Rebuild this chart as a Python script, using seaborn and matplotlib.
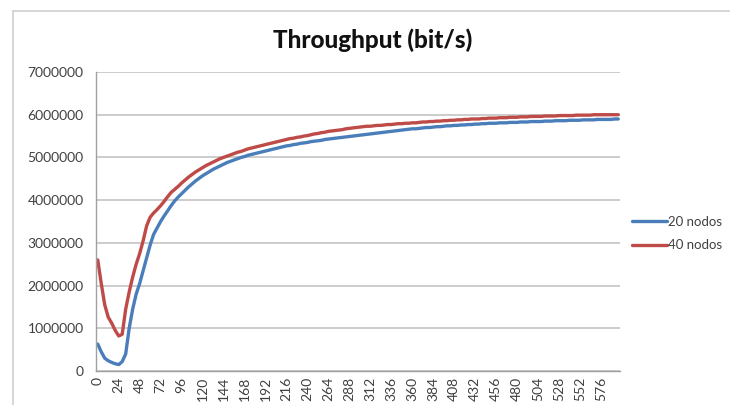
import numpy as np
import pandas as pd
import matplotlib
matplotlib.use("Agg")
import matplotlib.pyplot as plt
from matplotlib.lines import Line2D
import seaborn as sns

# time axis (s), one category every 4 s
tempo = list(range(0, 600, 4))

# throughput in Mbit/s
nodos_20 = [
    0.63, 0.45, 0.30, 0.24, 0.20, 0.17, 0.15, 0.22, 0.40, 1.00,
    1.45, 1.80, 2.05, 2.35, 2.65, 2.95, 3.20, 3.35, 3.50, 3.63,
    3.75, 3.87, 3.98, 4.07, 4.15, 4.23, 4.31, 4.38, 4.45, 4.51,
    4.57, 4.62, 4.67, 4.72, 4.76, 4.80, 4.84, 4.88, 4.91, 4.94,
    4.97, 5.00, 5.02, 5.05, 5.07, 5.09, 5.11, 5.13, 5.15, 5.17,
    5.19, 5.21, 5.23, 5.25, 5.27, 5.28, 5.30, 5.31, 5.33, 5.34,
    5.35, 5.37, 5.38, 5.39, 5.40, 5.42, 5.43, 5.44, 5.45, 5.46,
    5.47, 5.48, 5.49, 5.50, 5.51, 5.52, 5.53, 5.54, 5.55, 5.56,
    5.57, 5.58, 5.59, 5.60, 5.61, 5.62, 5.63, 5.64, 5.65, 5.66,
    5.67, 5.67, 5.68, 5.69, 5.70, 5.70, 5.71, 5.72, 5.72, 5.73,
    5.74, 5.74, 5.75, 5.75, 5.76, 5.76, 5.77, 5.77, 5.78, 5.78,
    5.79, 5.79, 5.80, 5.80, 5.80, 5.81, 5.81, 5.81, 5.82, 5.82,
    5.82, 5.83, 5.83, 5.83, 5.84, 5.84, 5.84, 5.84, 5.85, 5.85,
    5.85, 5.86, 5.86, 5.86, 5.86, 5.87, 5.87, 5.87, 5.87, 5.88,
    5.88, 5.88, 5.88, 5.89, 5.89, 5.89, 5.89, 5.89, 5.90, 5.90,
]
nodos_40 = [
    2.60, 2.05, 1.55, 1.26, 1.12, 0.95, 0.82, 0.86, 1.45, 1.85,
    2.20, 2.50, 2.75, 3.05, 3.40, 3.60, 3.70, 3.78, 3.87, 3.97,
    4.08, 4.18, 4.25, 4.32, 4.40, 4.47, 4.54, 4.60, 4.66, 4.71,
    4.76, 4.81, 4.85, 4.89, 4.93, 4.97, 5.00, 5.03, 5.06, 5.09,
    5.12, 5.14, 5.17, 5.20, 5.22, 5.24, 5.26, 5.28, 5.30, 5.32,
    5.34, 5.36, 5.38, 5.40, 5.42, 5.44, 5.45, 5.47, 5.48, 5.50,
    5.51, 5.53, 5.55, 5.56, 5.58, 5.59, 5.61, 5.62, 5.63, 5.64,
    5.65, 5.67, 5.68, 5.69, 5.70, 5.71, 5.72, 5.73, 5.73, 5.74,
    5.75, 5.75, 5.76, 5.77, 5.77, 5.78, 5.79, 5.79, 5.80, 5.80,
    5.81, 5.81, 5.82, 5.83, 5.83, 5.84, 5.84, 5.85, 5.85, 5.86,
    5.86, 5.87, 5.87, 5.88, 5.88, 5.89, 5.89, 5.90, 5.90, 5.90,
    5.91, 5.91, 5.92, 5.92, 5.92, 5.93, 5.93, 5.93, 5.94, 5.94,
    5.94, 5.95, 5.95, 5.95, 5.96, 5.96, 5.96, 5.96, 5.97, 5.97,
    5.97, 5.97, 5.98, 5.98, 5.98, 5.98, 5.98, 5.99, 5.99, 5.99,
    5.99, 5.99, 6.00, 6.00, 6.00, 6.00, 6.00, 6.00, 6.00, 6.00,
]
series_names = ["20 nodos", "40 nodos"]
series_colors = ["#4a7ebb", "#be4b48"]
y_ticks = list(range(0, 7000001, 1000000))

df = pd.concat([
    pd.DataFrame({"tempo": tempo, "bits": np.array(nodos_20) * 1e6, "serie": series_names[0]}),
    pd.DataFrame({"tempo": tempo, "bits": np.array(nodos_40) * 1e6, "serie": series_names[1]}),
])

sns.set_style("white")
plt.rcParams["font.family"] = ["Lato", "DejaVu Sans"]

fig = plt.figure(figsize=(7.3, 4.05), dpi=100)
ax = fig.add_axes([96 / 730, 1 - 371 / 405, (620 - 96) / 730, (371 - 72) / 405])

sns.lineplot(data=df, x="tempo", y="bits", hue="serie", palette=series_colors,
             linewidth=2.4, ax=ax, legend=False)

ax.set_xlim(-2, 598)
ax.set_ylim(0, 7000000)
ax.set_yticks(y_ticks)
ax.set_yticklabels([str(v) for v in y_ticks], fontsize=10, color="#404040")
ax.set_xticks(np.arange(-2, 599, 4))
ax.set_xticklabels([])
ax.set_xticks([t for t in tempo if t % 24 == 0], minor=True)
ax.set_xticklabels([str(t) for t in tempo if t % 24 == 0], minor=True,
                   rotation=90, fontsize=10, color="#404040")
ax.tick_params(axis="x", which="major", length=3, width=0.8, color="#a0a0a0", direction="out")
ax.tick_params(axis="x", which="minor", length=0, pad=4)
ax.tick_params(axis="y", length=4, width=0.8, color="#a0a0a0", direction="out", pad=5)

ax.grid(axis="y", color="#cccccc", linewidth=1.4)
ax.set_axisbelow(True)
for side in ["top", "right"]:
    ax.spines[side].set_visible(False)
for side in ["left", "bottom"]:
    ax.spines[side].set_color("#a0a0a0")
    ax.spines[side].set_linewidth(1.0)
ax.set_xlabel("")
ax.set_ylabel("")

fig.text(373 / 730, 1 - 40 / 405, "Throughput (bit/s)", ha="center", va="center",
         fontsize=17.5, fontweight="black", color="#111111")

handles = [Line2D([0], [0], color=c, linewidth=2.4) for c in series_colors]
fig.legend(handles, series_names, loc="center left", bbox_to_anchor=(627 / 730, 1 - 233.5 / 405),
           frameon=False, fontsize=9.5, handlelength=2.6, handletextpad=0.1,
           labelspacing=0.9, labelcolor="#404040", borderaxespad=0)

# chart area border (top and left edge of the sheet frame)
fig.add_artist(Line2D([13 / 730, 13 / 730], [0, 1 - 11 / 405], color="#cfcfcf", linewidth=1.2))
fig.add_artist(Line2D([13 / 730, 1], [1 - 11 / 405, 1 - 11 / 405], color="#cfcfcf", linewidth=1.2))

fig.savefig("out.png", dpi=100)
